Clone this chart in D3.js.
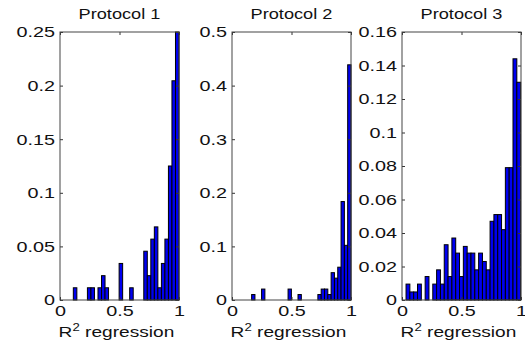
<!DOCTYPE html>
<html>
<head>
<meta charset="utf-8">
<script src="https://cdn.jsdelivr.net/npm/d3@7"></script>
<style>
body { margin: 0; background: #fff; }
svg { display: block; }
text { font-family: "Liberation Sans", Arial, sans-serif; fill: #111; }
</style>
</head>
<body>
<svg width="525" height="345"></svg>
<script>
// データ (R^2 のヒストグラム, 相対度数, 30 bins)
var titles = ["Protocol 1", "Protocol 2", "Protocol 3"];
var binRanges = [[0.112, 1.0], [0.165, 1.0], [0.034, 0.997]];
var yMaxes = [0.25, 0.5, 0.16];
var yTicks = [
    [0, 0.05, 0.1, 0.15, 0.2, 0.25],
    [0, 0.1, 0.2, 0.3, 0.4, 0.5],
    [0, 0.02, 0.04, 0.06, 0.08, 0.1, 0.12, 0.14, 0.16]
];
var xTicks = [0, 0.5, 1];

var freq1 = [0.0114, 0, 0, 0, 0.0114, 0.0114, 0, 0.0114, 0.0227, 0.0114,
             0, 0, 0, 0.0341, 0, 0, 0.0114, 0, 0, 0,
             0.0455, 0.0227, 0.0568, 0.0682, 0.0114, 0.0341, 0.0568, 0.125, 0.2045, 0.25];
var freq2 = [0.0102, 0, 0, 0.0204, 0, 0, 0, 0, 0, 0,
             0, 0.0204, 0, 0, 0.0102, 0, 0, 0, 0, 0,
             0.0102, 0.0204, 0.0204, 0.0102, 0.051, 0.0408, 0.0612, 0.1837, 0.102, 0.4388];
var freq3 = [0.0095, 0.0048, 0.0048, 0.0095, 0, 0.014, 0, 0.0095, 0.018, 0.0095,
             0.033, 0.014, 0.037, 0.028, 0.014, 0.032, 0.028, 0.028, 0.018, 0.028,
             0.023, 0.018, 0.047, 0.051, 0.051, 0.042, 0.079, 0.079, 0.144, 0.130];
var freqs = [freq1, freq2, freq3];

// レイアウト
var panelLeft = [60, 232, 402];
var marginTop = 32, width = 119, height = 268;
var sx = 1.32;  // 横に引き伸ばされた文字
var fmt = function(d) { return String(+d.toFixed(4)); };

var svg = d3.select("svg");

for (var p = 0; p < 3; p++) {
    var g = svg.append("g")
        .attr("transform", "translate(" + panelLeft[p] + "," + marginTop + ")");

    var x = d3.scaleLinear().domain([0, 1]).range([0, width]);
    var y = d3.scaleLinear().domain([0, yMaxes[p]]).range([height, 0]);

    var lo = binRanges[p][0], hi = binRanges[p][1];
    var bw = (hi - lo) / freqs[p].length;

    // 棒 (0 の bin は描かない)
    g.selectAll("rect.bar")
        .data(freqs[p].map(function(v, i) { return {i: i, v: v}; })
              .filter(function(d) { return d.v > 0; }))
      .enter().append("rect")
        .attr("class", "bar")
        .attr("x", function(d) { return x(lo + d.i * bw); })
        .attr("width", function(d) { return x(lo + (d.i + 1) * bw) - x(lo + d.i * bw); })
        .attr("y", function(d) { return y(d.v); })
        .attr("height", function(d) { return y(0) - y(d.v); })
        .attr("fill", "#0000f0")
        .attr("stroke", "#000")
        .attr("stroke-width", 1);

    // 軸
    var ya = g.append("g")
        .call(d3.axisLeft(y).tickValues(yTicks[p]).tickFormat(fmt)
              .tickSizeInner(-3).tickSizeOuter(0).tickPadding(5));
    g.append("g").attr("transform", "translate(" + width + ",0)")
        .call(d3.axisRight(y).tickValues(yTicks[p]).tickFormat("")
              .tickSizeInner(-3).tickSizeOuter(0));
    var xa = g.append("g").attr("transform", "translate(0," + height + ")")
        .call(d3.axisBottom(x).tickValues(xTicks).tickFormat(fmt)
              .tickSizeInner(-3).tickSizeOuter(0).tickPadding(5));
    g.append("g")
        .call(d3.axisTop(x).tickValues(xTicks).tickFormat("")
              .tickSizeInner(-3).tickSizeOuter(0));

    g.selectAll(".domain").remove();
    g.selectAll(".tick line").attr("stroke", "#333");

    ya.selectAll("text")
        .attr("font-size", 15)
        .attr("font-family", null)
        .attr("x", -5 / sx)
        .attr("transform", "scale(" + sx + ",1)");
    xa.selectAll("text")
        .attr("font-size", 15)
        .attr("font-family", null)
        .attr("y", 5)
        .attr("transform", "scale(" + sx + ",1)");

    // 枠
    g.append("rect")
        .attr("width", width).attr("height", height)
        .attr("fill", "none").attr("stroke", "#444").attr("stroke-width", 1);

    // タイトル
    g.append("text")
        .attr("transform", "translate(" + width / 2 + ",-13) scale(1.3,1)")
        .attr("text-anchor", "middle")
        .attr("font-size", 14)
        .text(titles[p]);

    // x 軸ラベル
    var lab = g.append("text")
        .attr("transform", "translate(" + (width / 2 - 3) + "," + (height + 37) + ") scale(1.32,1)")
        .attr("text-anchor", "middle")
        .attr("font-size", 14.5);
    lab.append("tspan").text("R");
    lab.append("tspan").attr("font-size", 10).attr("dy", -6).text("2");
    lab.append("tspan").attr("dy", 6).text(" regression");
}
</script>
</body>
</html>
